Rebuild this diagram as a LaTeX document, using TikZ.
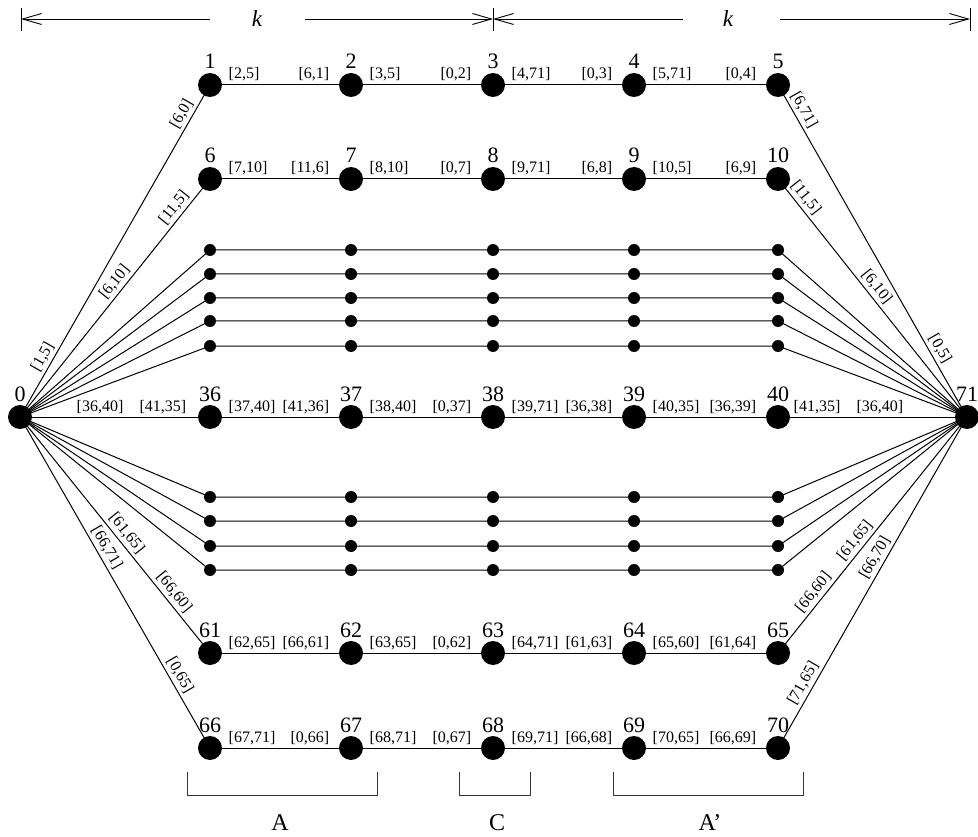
\documentclass[tikz,border=0pt]{standalone}
\usepackage{fontspec}
\setmainfont{Liberation Serif}
\usetikzlibrary{arrows.meta}

% horizontal link with a label after its start and one before its end
\newcommand\hlinkx[6]{%
  \draw[edge] (#1) -- (#2)
    node[lab,at start,anchor=base west,xshift=#5,yshift=6pt] {#3}
    node[lab,at end,anchor=base east,xshift=#6,yshift=6pt] {#4};}
\newcommand\hlink[4]{\hlinkx{#1}{#2}{#3}{#4}{6pt}{-9pt}}

\begin{document}
\begin{tikzpicture}[x=1pt,y=-1pt,
  big/.style={circle,fill=black,inner sep=0pt,minimum size=24pt},
  small/.style={circle,fill=black,inner sep=0pt,minimum size=12pt},
  num/.style={font=\fontsize{22}{22}\selectfont,inner sep=0pt,anchor=base},
  lab/.style={font=\fontsize{16}{16}\selectfont,inner sep=0pt},
  slab/.style={lab,sloped,above=3pt},
  edge/.style={line width=1pt},
  dim/.style={line width=0.9pt},
  dimtip/.style={dim,-{Straight Barb[length=19pt,width=11pt,line width=0.9pt]}},
  brk/.style={line width=1pt,draw=black!80},
  captext/.style={font=\fontsize{24}{24}\selectfont,inner sep=0pt},
  ktext/.style={font=\fontsize{23}{23}\selectfont\itshape,inner sep=0pt}]
\useasboundingbox (0,0) rectangle (978,837);

% end points and their numbers
\node[big] (n0) at (20,417) {};
\node[num] (t0) at (20,401) {0};
\node[big] (n71) at (967,417) {};
\node[num] (t71) at (967,401) {71};

% numbered rows
\foreach \first/\y in {1/85, 6/179, 36/417, 61/653, 66/748} {
  \foreach \c/\x [evaluate=\c as \k using int(\first+\c-1)] in {1/210,2/351,3/493,4/634,5/778} {
    \node[big] (n\k) at (\x,\y) {};
    \node[num] (t\k) at (\x,\y-16) {\k};
  }
}

% unnumbered rows of small vertices
\foreach \r/\y in {1/250,2/274,3/298,4/321,5/346,6/497,7/521,8/546,9/570} {
  \foreach \c/\x in {1/210,2/351,3/493,4/634,5/778} {
    \node[small] (s\r-\c) at (\x,\y) {};
  }
  \draw[edge] (n0.center) -- (s\r-1.center) -- (s\r-2.center) -- (s\r-3.center)
    -- (s\r-4.center) -- (s\r-5.center) -- (n71.center);
}

% row 1
\hlink{n1}{n2}{[2,5]}{[6,1]}
\hlink{n2}{n3}{[3,5]}{[0,2]}
\hlink{n3}{n4}{[4,71]}{[0,3]}
\hlink{n4}{n5}{[5,71]}{[0,4]}
% row 6
\hlink{n6}{n7}{[7,10]}{[11,6]}
\hlink{n7}{n8}{[8,10]}{[0,7]}
\hlink{n8}{n9}{[9,71]}{[6,8]}
\hlink{n9}{n10}{[10,5]}{[6,9]}
% middle row
\hlinkx{n0}{n36}{[36,40]}{[41,35]}{44pt}{-11pt}
\hlink{n36}{n37}{[37,40]}{[41,36]}
\hlink{n37}{n38}{[38,40]}{[0,37]}
\hlink{n38}{n39}{[39,71]}{[36,38]}
\hlink{n39}{n40}{[40,35]}{[36,39]}
\hlinkx{n40}{n71}{[41,35]}{[36,40]}{3pt}{-51pt}
% row 61
\hlink{n61}{n62}{[62,65]}{[66,61]}
\hlink{n62}{n63}{[63,65]}{[0,62]}
\hlink{n63}{n64}{[64,71]}{[61,63]}
\hlink{n64}{n65}{[65,60]}{[61,64]}
% row 66
\hlink{n66}{n67}{[67,71]}{[0,66]}
\hlink{n67}{n68}{[68,71]}{[0,67]}
\hlink{n68}{n69}{[69,71]}{[66,68]}
\hlink{n69}{n70}{[70,65]}{[66,69]}

% slanted links from 0 and to 71
\draw[edge] (n0.center) -- (n1.center) node[slab,pos=.166] {[1,5]} node[slab,pos=.898] {[6,0]};
\draw[edge] (n0.center) -- (n6.center) node[slab,pos=.54] {[6,10]} node[slab,pos=.853] {[11,5]};
\draw[edge] (n0.center) -- (n61.center) node[slab,pos=.52] {[61,65]} node[slab,pos=.77] {[66,60]};
\draw[edge] (n0.center) -- (n66.center) node[slab,pos=.41] {[66,71]} node[slab,pos=.795] {[0,65]};
\draw[edge] (n5.center) -- (n71.center) node[slab,pos=.09] {[6,71]} node[slab,pos=.81] {[0,5]};
\draw[edge] (n10.center) -- (n71.center) node[slab,pos=.105] {[11,5]} node[slab,pos=.48] {[6,10]};
\draw[edge] (n65.center) -- (n71.center) node[slab,pos=.23] {[66,60]} node[slab,pos=.45] {[61,65]};
\draw[edge] (n70.center) -- (n71.center) node[slab,pos=.18] {[71,65]} node[slab,pos=.56] {[66,70]};

% dimension lines at the top
\coordinate (d0) at (21,19);
\coordinate (d1) at (493,19);
\coordinate (d2) at (970,19);
\draw[dim] (21,8) -- (21,31);
\draw[dim] (493,8) -- (493,31);
\draw[dim] (970,8) -- (970,31);
\node[ktext] (k1) at (257,19) {k};
\node[ktext] (k2) at (728,19) {k};
\coordinate (k1w) at (210,19);
\coordinate (k1e) at (305,19);
\coordinate (k2w) at (683,19);
\coordinate (k2e) at (780,19);
\draw[dimtip] (k1w) -- (d0);
\draw[dimtip] (k1e) -- (d1);
\draw[dimtip] (k2w) -- (d1);
\draw[dimtip] (k2e) -- (d2);

% groups under the bottom row
\draw[brk] (187,772) -- (187,795) -- (377,795) -- (377,772);
\draw[brk] (459,772) -- (459,795) -- (530,795) -- (530,772);
\draw[brk] (613,772) -- (613,795) -- (803,795) -- (803,772);
\node[captext] (gA) at (280,823) {A};
\node[captext] (gC) at (497,823) {C};
\node[captext] (gA2) at (710,823) {A’};
\end{tikzpicture}
\end{document}
